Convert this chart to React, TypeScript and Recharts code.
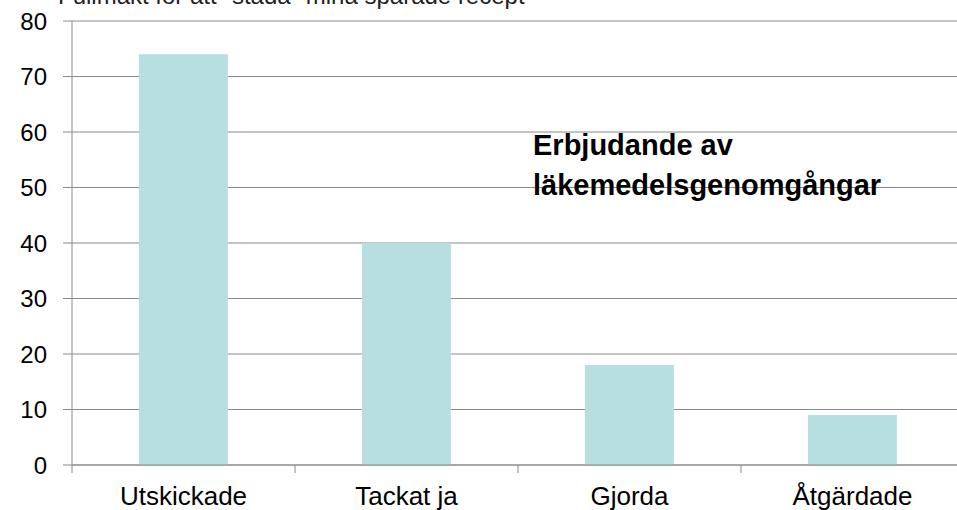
import { BarChart, Bar, XAxis, YAxis, CartesianGrid } from 'recharts';

const categories = ['Utskickade', 'Tackat ja', 'Gjorda', 'Åtgärdade'];
const values = [74, 40, 18, 9];
const yTicks = [0, 10, 20, 30, 40, 50, 60, 70, 80];
const titleText = 'Fullmakt för att "städa" mina sparade recept';
const noteLines = ['Erbjudande av', 'läkemedelsgenomgångar'];

const data = categories.map((name, i) => ({ name, value: values[i] }));

const CHART_W = 972;
const CHART_H = 510;
const MARGIN = { top: 21, right: 8, bottom: 0, left: 0 };
const Y_AXIS_W = 72;
const X_AXIS_H = 45;
const AXIS = '#8a8a8a';
const FONT = '"Liberation Sans", Arial, sans-serif';

const plotWidth = CHART_W - MARGIN.left - MARGIN.right - Y_AXIS_W;
const halfBand = plotWidth / categories.length / 2;

function CategoryTick(props: any) {
  const { x, y, payload } = props;
  const left = x - halfBand;
  return (
    <g>
      <line x1={left} y1={y} x2={left} y2={y + 8} stroke={AXIS} strokeWidth={1} />
      <text
        x={x}
        y={y + 40}
        textAnchor="middle"
        fill="#000"
        fontSize={26}
        fontFamily={FONT}
      >
        {payload.value}
      </text>
    </g>
  );
}

export default function App() {
  return (
    <div
      style={{
        position: 'absolute',
        left: 0,
        top: 0,
        width: 957,
        height: 510,
        overflow: 'hidden',
        background: '#fff',
      }}
    >
      <div
        style={{
          position: 'absolute',
          left: 58,
          top: -18,
          fontFamily: FONT,
          fontSize: 24,
          lineHeight: '27px',
          color: '#222',
          whiteSpace: 'nowrap',
        }}
      >
        {titleText}
      </div>
      <BarChart
        width={CHART_W}
        height={CHART_H}
        data={data}
        margin={MARGIN}
        barCategoryGap="30%"
      >
        <CartesianGrid vertical={false} stroke={AXIS} strokeWidth={1} />
        <XAxis
          dataKey="name"
          height={X_AXIS_H}
          axisLine={{ stroke: AXIS }}
          tickLine={false}
          tickSize={0}
          tickMargin={0}
          tick={<CategoryTick />}
          interval={0}
        />
        <YAxis
          width={Y_AXIS_W}
          domain={[0, 80]}
          ticks={yTicks}
          interval={0}
          axisLine={{ stroke: AXIS }}
          tickLine={{ stroke: AXIS }}
          tickSize={9}
          tickMargin={16}
          tick={{ fill: '#000', fontSize: 24, fontFamily: FONT }}
        />
        <Bar dataKey="value" fill="#b7dfe2" isAnimationActive={false} />
      </BarChart>
      <div
        style={{
          position: 'absolute',
          left: 533,
          top: 125,
          fontFamily: FONT,
          fontWeight: 'bold',
          fontSize: 29,
          lineHeight: '40px',
          color: '#000',
          whiteSpace: 'nowrap',
        }}
      >
        {noteLines.map((l) => (
          <div key={l}>{l}</div>
        ))}
      </div>
    </div>
  );
}
